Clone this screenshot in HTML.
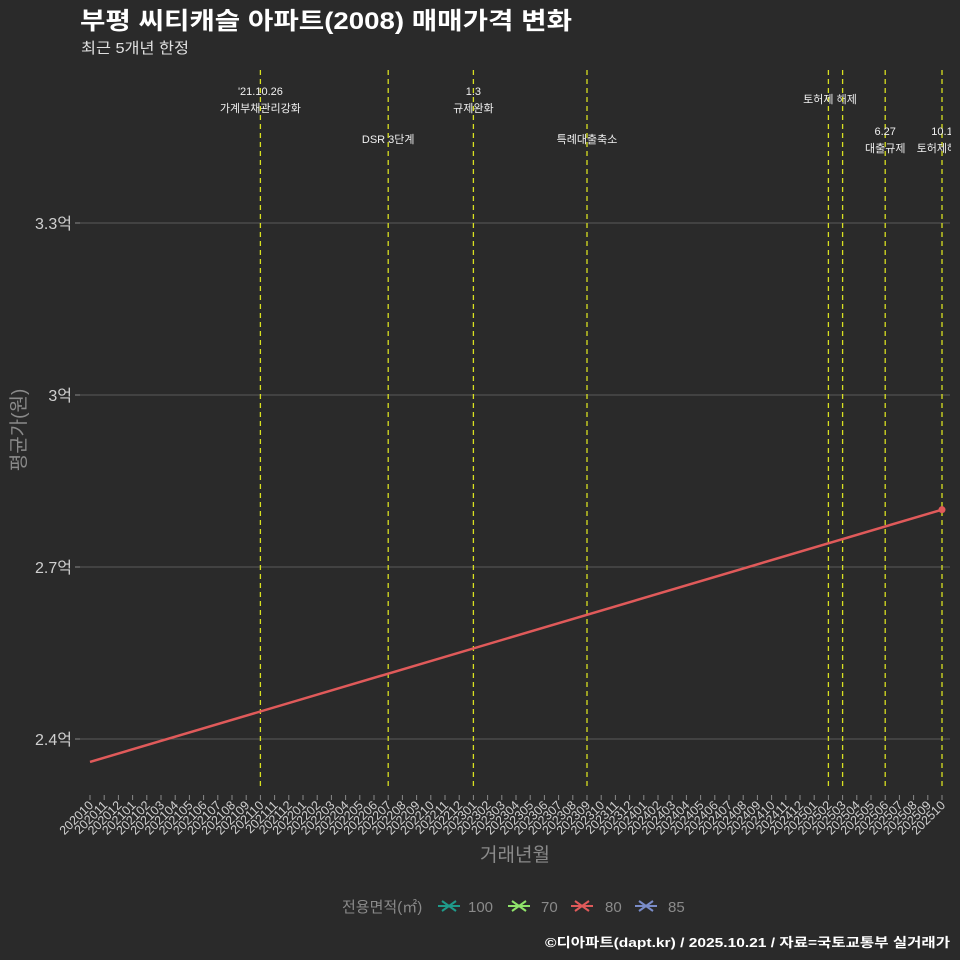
<!DOCTYPE html>
<html><head><meta charset="utf-8"><style>
body{margin:0;background:#2a2a2a;}
svg{display:block;font-family:"Liberation Sans","Noto Sans CJK KR",sans-serif;}
</style></head><body>
<svg id="chart" width="960" height="960" viewBox="0 0 960 960">
<defs><clipPath id="pc"><rect x="80" y="60" width="871" height="740"/></clipPath></defs>
<rect width="960" height="960" fill="#2a2a2a"/>
<text x="80" y="29" font-size="24" font-weight="bold" fill="#ffffff" textLength="492" lengthAdjust="spacingAndGlyphs">부평 씨티캐슬 아파트(2008) 매매가격 변화</text>
<text x="81" y="53" font-size="15" fill="#e0e0e0" textLength="108" lengthAdjust="spacingAndGlyphs">최근 5개년 한정</text>
<g id="grid"></g><g id="events" clip-path="url(#pc)"></g><g id="series"></g><g id="xaxis"></g>
<text transform="translate(25,430) rotate(-90)" text-anchor="middle" font-size="19" fill="#8a8a8a">평균가(원)</text>
<text x="515" y="861" text-anchor="middle" font-size="19" fill="#8a8a8a">거래년월</text>
<g font-size="15">
<text x="342" y="912" fill="#8a8a8a">전용면적(㎡)</text>
<g><path d="M438 906h22M442 901l14 10M442 911l14-10" stroke="#1f9a8a" stroke-width="2"/><text x="468" y="912" fill="#8a8a8a">100</text></g>
<g><path d="M508 906h22M512 901l14 10M512 911l14-10" stroke="#8fe36a" stroke-width="2"/><text x="541" y="912" fill="#8a8a8a">70</text></g>
<g><path d="M571 906h22M575 901l14 10M575 911l14-10" stroke="#e05a5a" stroke-width="2"/><text x="605" y="912" fill="#8a8a8a">80</text></g>
<g><path d="M635 906h22M639 901l14 10M639 911l14-10" stroke="#7a8cc8" stroke-width="2"/><text x="668" y="912" fill="#8a8a8a">85</text></g>
</g>
<text x="950" y="947" text-anchor="end" font-size="13" font-weight="bold" fill="#ffffff" textLength="405" lengthAdjust="spacingAndGlyphs">©디아파트(dapt.kr) / 2025.10.21 / 자료=국토교통부 실거래가</text>
</svg>
<script>
const months=[];for(let y=2020,m=10;y*100+m<=202510;){months.push(''+y+(m<10?'0':'')+m);m++;if(m>12){m=1;y++;}}
const yTicks=[2.4,2.7,3.0,3.3];
const yTickLabels=['2.4억','2.7억','3억','3.3억'];
const seriesMonths=['202010','202510'];
const seriesValues=[2.36,2.80];
const eventMonths=['202110','202207','202301','202309','202502','202503','202506','202510'];
const eventLine1=["'21.10.26",'','1.3','','','','6.27','10.1'];
const eventLine2=['가계부채관리강화','DSR 3단계','규제완화','특례대출축소','토허제 해제','','대출규제','토허제해제'];
const eventY=[95,143,95,143,103,103,135,135];
const NS='http://www.w3.org/2000/svg';
const xs=i=>90+i*(852/(months.length-1));
const xm=m=>xs(months.indexOf(m));
const ys=v=>739-(v-2.4)*(172/0.3);
function el(t,a,p){const e=document.createElementNS(NS,t);for(const k in a)e.setAttribute(k,a[k]);p.appendChild(e);return e;}
const grid=document.getElementById('grid');
yTicks.forEach((v,i)=>{
 const l=el('line',{x1:80,x2:950,y1:ys(v),y2:ys(v),stroke:'#5a5a5a','stroke-width':1},grid);
 
 
 el('line',{x1:75,x2:80,y1:ys(v),y2:ys(v),stroke:'#888'},grid);
 const t=el('text',{x:72,y:ys(v)+6,'text-anchor':'end','font-size':16,fill:'#cfcfcf'},grid);t.textContent=yTickLabels[i];
 
 
});
const ev=document.getElementById('events');
eventMonths.forEach((m,i)=>{
 const x=xm(m);
 const l=el('line',{x1:x,x2:x,y1:70,y2:790,stroke:'#d8e020','stroke-width':1.3,'stroke-dasharray':'5,4'},ev);
 
 
 let tx=x;if(m==='202502')tx=830;
 if(eventLine1[i]){const t=el('text',{x:tx,y:eventY[i],'text-anchor':'middle','font-size':11,fill:'#f0f0f0'},ev);t.textContent=eventLine1[i];
  
  }
 if(eventLine2[i]){const t=el('text',{x:tx,y:eventY[i]+(eventLine1[i]?17:0),'text-anchor':'middle','font-size':11,fill:'#f0f0f0'},ev);t.textContent=eventLine2[i];
  
  }
});
const xa=document.getElementById('xaxis');
months.forEach((m,i)=>{
 const x=xs(i);
 el('line',{x1:x,x2:x,y1:795,y2:800,stroke:'#888'},xa);
 const t=el('text',{transform:`translate(${x+4},${806}) rotate(-45)`,'text-anchor':'end','font-size':12.5,fill:'#d0d0d0'},xa);t.textContent=m;
 
 
});
const sg=document.getElementById('series');
const pts=seriesMonths.map((m,i)=>xm(m)+','+ys(seriesValues[i])).join(' ');
const pl=el('polyline',{points:pts,fill:'none',stroke:'#e05a5a','stroke-width':2.5},sg);


seriesMonths.forEach((m,i)=>{if(i===seriesMonths.length-1){const c=el('circle',{cx:xm(m),cy:ys(seriesValues[i]),r:3.5,fill:'#e05a5a'},sg);
 
 }});
</script>
</body></html>
